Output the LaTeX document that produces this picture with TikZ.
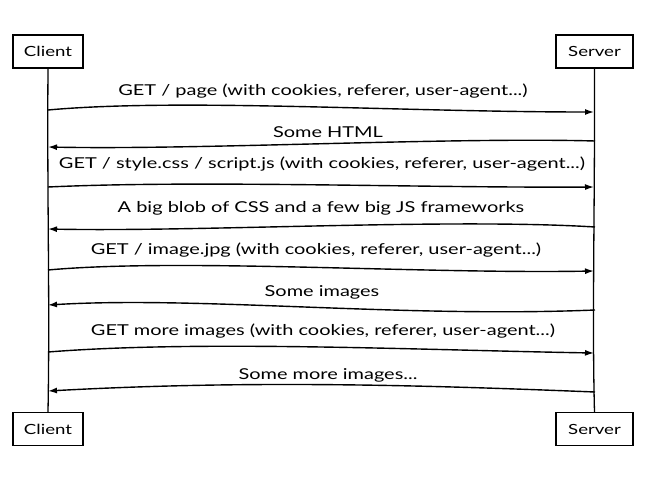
\documentclass[tikz,border=0pt]{standalone}
\usepackage{fontspec}
\setmainfont[FakeStretch=1.33]{Lato}
\usetikzlibrary{arrows.meta}
\begin{document}
\begin{tikzpicture}[x=1pt,y=-1pt,
  actor/.style={draw,line width=1.3pt,minimum height=33pt,inner sep=0pt,font=\fontsize{14}{16}\selectfont},
  life/.style={line width=1.3pt},
  msg/.style={line width=1.4pt,-{Latex[length=9pt,width=6pt]}},
  lbl/.style={font=\fontsize{15}{17}\selectfont,inner sep=0pt}]
\useasboundingbox[fill=white] (0,0) rectangle (662,482);
% actors
\node[actor,minimum width=70pt] (ct) at (48,51.5) {Client};
\node[actor,minimum width=77pt] (st) at (594.5,51.5) {Server};
\node[actor,minimum width=70pt] (cb) at (48,429) {Client};
\node[actor,minimum width=77pt] (sb) at (594.5,429) {Server};
% lifelines
\draw[life] (ct.south) .. controls (47,200) and (50,300) .. (cb.north);
\draw[life] (st.south) .. controls (595,200) and (592,320) .. (sb.north);
% coordinates on lifelines
\coordinate (c1) at (48,110);  \coordinate (s1) at (594,112);
\coordinate (s2) at (595,141); \coordinate (c2) at (48,147);
\coordinate (c3) at (48,187);  \coordinate (s3) at (594,187);
\coordinate (s4) at (595,227); \coordinate (c4) at (48,229);
\coordinate (c5) at (48,270);  \coordinate (s5) at (594,271);
\coordinate (s6) at (595,310); \coordinate (c6) at (48,305);
\coordinate (c7) at (48,352);  \coordinate (s7) at (594,353);
\coordinate (s8) at (595,392); \coordinate (c8) at (48,391);
% messages
\draw[msg] (c1) .. controls (180,98) and (400,112) .. (s1);
\draw[msg] (s2) .. controls (450,137) and (200,150) .. (c2);
\draw[msg] (c3) .. controls (200,180) and (420,188) .. (s3);
\draw[msg] (s4) .. controls (450,218) and (200,232) .. (c4);
\draw[msg] (c5) .. controls (180,258) and (420,274) .. (s5);
\draw[msg] (s6) .. controls (400,318) and (200,296) .. (c6);
\draw[msg] (c7) .. controls (200,340) and (420,350) .. (s7);
\draw[msg] (s8) .. controls (420,385) and (250,380) .. (c8);
% labels
\node[lbl] (l1) at (323,91) {GET / page (with cookies, referer, user-agent...)};
\node[lbl] (l2) at (328,132) {Some HTML};
\node[lbl] (l3) at (322,164) {GET / style.css / script.js (with cookies, referer, user-agent...)};
\node[lbl] (l4) at (321,208) {A big blob of CSS and a few big JS frameworks};
\node[lbl] (l5) at (316,250) {GET / image.jpg (with cookies, referer, user-agent...)};
\node[lbl] (l6) at (322,292) {Some images};
\node[lbl] (l7) at (323,331) {GET more images (with cookies, referer, user-agent...)};
\node[lbl] (l8) at (328,375) {Some more images...};
\end{tikzpicture}
\end{document}
